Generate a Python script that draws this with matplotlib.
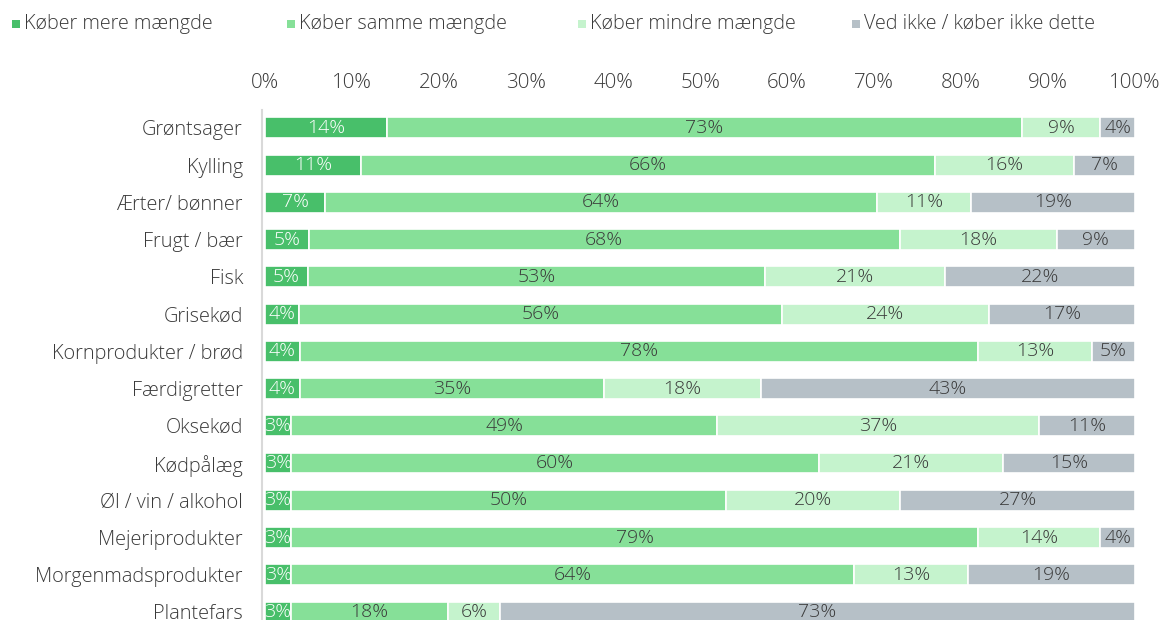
import matplotlib
matplotlib.use("Agg")
import matplotlib.pyplot as plt
import numpy as np
from matplotlib.patches import Rectangle

plt.rcParams['font.family'] = ['Open Sans', 'DejaVu Sans']

categories = ["Grøntsager", "Kylling", "Ærter/ bønner", "Frugt / bær", "Fisk", "Grisekød",
              "Kornprodukter / brød", "Færdigretter", "Oksekød", "Kødpålæg",
              "Øl / vin / alkohol", "Mejeriprodukter", "Morgenmadsprodukter", "Plantefars"]
series_names = ["Køber mere mængde", "Køber samme mængde", "Køber mindre mængde",
                "Ved ikke / køber ikke dette"]
more = [14, 11, 7, 5, 5, 4, 4, 4, 3, 3, 3, 3, 3, 3]
same = [73, 66, 64, 68, 53, 56, 78, 35, 49, 60, 50, 79, 64, 18]
less = [9, 16, 11, 18, 21, 24, 13, 18, 37, 21, 20, 14, 13, 6]
dontknow = [4, 7, 19, 9, 22, 17, 5, 43, 11, 15, 27, 4, 19, 73]
tick_labels = ["0%", "10%", "20%", "30%", "40%", "50%", "60%", "70%", "80%", "90%", "100%"]

colors = ["#48BF6A", "#86E098", "#C5F3CD", "#B6C0C7"]
text_colors = ["white", "#3a3a3a", "#3a3a3a", "#3a3a3a"]
txt = "#3a3a3a"

data = np.array([more, same, less, dontknow], dtype=float)
totals = data.sum(axis=0)
widths = data / totals * 100

W, H = 1163, 620
fig = plt.figure(figsize=(W / 100, H / 100), dpi=100)
ax = fig.add_axes([265 / W, 0.0, (1135 - 265) / W, 1 - 110 / H])

for s in ["top", "right", "bottom"]:
    ax.spines[s].set_visible(False)
ax.spines["left"].set_position(("data", -0.3))
ax.spines["left"].set_color("#d9d9d9")
ax.spines["left"].set_linewidth(1.5)

y = np.arange(len(categories))
left = np.zeros(len(categories))
for i in range(4):
    ax.barh(y, widths[i], left=left, height=0.56, color=colors[i],
            edgecolor="white", linewidth=1.2, label=series_names[i])
    for j in range(len(categories)):
        ax.text(left[j] + widths[i][j] / 2, y[j], f"{int(data[i][j])}%",
                ha="center", va="center", fontsize=14, color=text_colors[i],
                fontweight="light")
    left += widths[i]

ax.set_xlim(0, 100)
ax.set_ylim(13 + 0.215, -0.48)
ax.set_yticks(y)
ax.set_yticklabels(categories)
ax.set_xticks(np.arange(0, 101, 10))
ax.set_xticklabels(tick_labels)
ax.xaxis.tick_top()
ax.tick_params(axis="both", length=0, labelcolor=txt)
ax.tick_params(axis="x", pad=12, labelsize=14.8)
ax.tick_params(axis="y", pad=14, labelsize=14.3)
for lab in ax.get_xticklabels() + ax.get_yticklabels():
    lab.set_fontweight("light")

# legend drawn manually at reference positions
leg_x = [12, 287, 578, 852]
leg_y = 24
for xpos, c, name in zip(leg_x, colors, series_names):
    fig.patches.append(Rectangle((xpos / W, 1 - (leg_y + 4) / H), 8 / W, 8 / H,
                                 transform=fig.transFigure, facecolor=c,
                                 edgecolor="none"))
    fig.text((xpos + 12) / W, 1 - leg_y / H, name, ha="left", va="center",
             fontsize=14.2, color=txt, fontweight="light")

fig.savefig("out.png", dpi=100)
